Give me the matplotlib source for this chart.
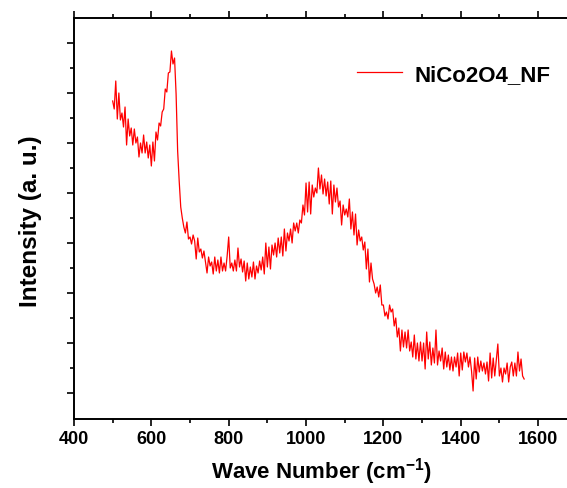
import numpy as np
import matplotlib
matplotlib.use('Agg')
import matplotlib.pyplot as plt
from matplotlib.ticker import MultipleLocator, FixedLocator

# Raman spectrum (wave number grid 500..1564, step 4)
wave_start = 500
wave_step = 4
intensity = [
    318, 310, 338, 300, 326, 299, 306, 292, 312, 274,  # 500
    300, 283, 291, 274, 290, 276, 282, 262, 276, 266,  # 540
    284, 266, 277, 261, 274, 253, 277, 258, 287, 279,  # 580
    296, 293, 307, 310, 330, 327, 346, 347, 368, 355,  # 620
    361, 325, 268, 238, 212, 201, 192, 186, 197, 180,  # 660
    182, 175, 184, 178, 160, 181, 167, 170, 161, 168,  # 700
    157, 146, 162, 153, 157, 145, 162, 148, 159, 146,  # 740
    162, 148, 156, 148, 163, 182, 151, 156, 148, 159,  # 780
    148, 171, 152, 160, 147, 158, 138, 156, 140, 152,  # 820
    142, 157, 140, 153, 146, 158, 149, 162, 145, 176,  # 860
    152, 172, 150, 174, 164, 176, 162, 181, 166, 182,  # 900
    163, 190, 168, 186, 178, 190, 176, 196, 188, 196,  # 940
    186, 199, 196, 214, 204, 236, 207, 237, 205, 234,  # 980
    222, 231, 226, 251, 230, 244, 225, 240, 223, 237,  # 1020
    215, 238, 205, 234, 217, 231, 212, 218, 194, 214,  # 1060
    204, 210, 202, 220, 190, 207, 184, 205, 174, 189,  # 1100
    178, 182, 169, 177, 150, 170, 137, 156, 140, 135,  # 1140
    126, 132, 122, 134, 114, 114, 103, 107, 100, 114,  # 1180
    107, 110, 93, 101, 82, 91, 68, 89, 72, 87,  # 1220
    71, 89, 68, 77, 62, 84, 60, 76, 58, 77,  # 1260
    58, 76, 50, 87, 60, 77, 54, 71, 56, 89,  # 1300
    54, 68, 58, 71, 50, 67, 52, 64, 49, 62,  # 1340
    48, 62, 52, 66, 43, 66, 49, 67, 57, 66,  # 1380
    52, 62, 48, 28, 61, 40, 62, 47, 58, 48,  # 1420
    56, 45, 57, 38, 66, 41, 61, 43, 59, 75,  # 1460
    43, 51, 37, 51, 45, 56, 37, 52, 57, 43,  # 1500
    56, 43, 67, 48, 60, 43, 40,  # 1540
]
wave = wave_start + wave_step * np.arange(len(intensity))

plt.rcParams['font.family'] = ['Liberation Sans', 'DejaVu Sans']
plt.rcParams['font.weight'] = 'bold'
plt.rcParams['mathtext.fontset'] = 'custom'
plt.rcParams['mathtext.rm'] = 'Liberation Sans:bold'
plt.rcParams['mathtext.default'] = 'rm'

fig = plt.figure(figsize=(5.67, 4.89), dpi=100)
ax = fig.add_axes([74 / 567, 69 / 489, 495 / 567, 401 / 489])

ax.plot(wave, intensity, color='#ff0000', lw=0.9, label='NiCo2O4_NF')

ax.set_xlim(400, 1680)
ax.set_ylim(0, 401)
ax.xaxis.set_major_locator(MultipleLocator(200))
ax.xaxis.set_minor_locator(MultipleLocator(100))
ax.yaxis.set_major_locator(FixedLocator(np.arange(26, 400, 50)))
ax.yaxis.set_minor_locator(FixedLocator(np.arange(51, 400, 50)))
ax.tick_params(which='both', direction='out', top=True, width=1.2, labelsize=13, pad=3)
ax.tick_params(which='major', length=5)
ax.tick_params(which='minor', length=3)
ax.tick_params(axis='y', labelleft=False)
for s in ax.spines.values():
    s.set_linewidth(1.4)

ax.set_xlabel('Wave Number (cm$^{-1}$)', fontsize=16, fontweight='bold', labelpad=6)
ax.set_ylabel('Intensity (a. u.)', fontsize=17.5, fontweight='bold', labelpad=19)
ax.yaxis.set_label_coords(-0.064, 0.495)

ax.legend(loc='center left', bbox_to_anchor=(0.572, 0.86), frameon=False,
          fontsize=16, handlelength=2.0, handletextpad=0.6, borderpad=0, borderaxespad=0)

fig.savefig('out.png', dpi=100)
